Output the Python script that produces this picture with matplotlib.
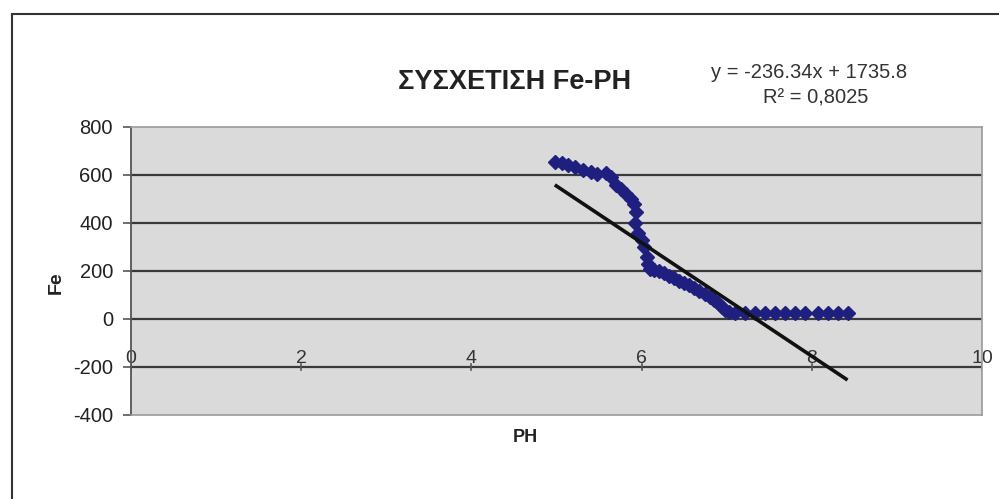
import matplotlib
matplotlib.use("Agg")
import matplotlib.pyplot as plt
from matplotlib.lines import Line2D

# ---- data ----
ph = [4.98, 5.06, 5.14, 5.22, 5.31, 5.40, 5.48, 5.58, 5.64, 5.70, 5.76, 5.82,
      5.87, 5.91, 5.93, 5.92, 5.96, 6.00, 6.03, 6.06, 6.08, 6.10, 6.14, 6.20,
      6.26, 6.32, 6.38, 6.44, 6.50, 6.56, 6.62, 6.68, 6.74, 6.80, 6.85, 6.90,
      6.94, 6.98, 7.03, 7.10, 7.21, 7.33, 7.45, 7.57, 7.68, 7.80, 7.92, 8.07,
      8.19, 8.31, 8.42]
fe = [655, 648, 640, 632, 622, 612, 604, 608, 590, 560, 540, 520,
      500, 480, 445, 400, 360, 330, 300, 260, 230, 210, 205, 198,
      190, 180, 170, 160, 150, 140, 130, 118, 105, 92, 80, 65,
      50, 38, 28, 25, 24, 24, 24, 24, 24, 24, 24, 24,
      24, 24, 24]
slope = -236.34
intercept = 1735.8
r2_label = "R² = 0,8025"
eq_label = "y = -236.34x + 1735.8"
title = "ΣΥΣΧΕΤΙΣΗ Fe-PH"
xticks = [0, 2, 4, 6, 8, 10]
yticks = [-400, -200, 0, 200, 400, 600, 800]

plt.rcParams['font.family'] = ['Liberation Sans', 'DejaVu Sans']

fig = plt.figure(figsize=(9.99, 4.99), dpi=100)
ax = fig.add_axes([131/999, 1-415/499, (982-131)/999, (415-127)/499])
ax.set_facecolor('#dadada')

ax.set_xlim(0, 10)
ax.set_ylim(-400, 800)

# horizontal gridlines
for v in [600, 400, 200, 0, -200]:
    ax.axhline(v, color='#3a3a3a', lw=1.6, zorder=1)

# data
ax.plot(ph, fe, linestyle='none', marker='D', ms=6.8, color='#1f1f80',
        markeredgecolor='#1f1f80', zorder=3)

# trend line
x0, x1 = min(ph), max(ph)
ax.plot([x0, x1], [slope*x0 + intercept, slope*x1 + intercept],
        color='#111111', lw=2.6, zorder=4, solid_capstyle='butt')

# spines
for s in ['top', 'right', 'bottom']:
    ax.spines[s].set_color('#9a9a9a')
    ax.spines[s].set_linewidth(1.2)
ax.spines['left'].set_color('#555555')
ax.spines['left'].set_linewidth(1.3)

ax.set_yticks(yticks)
ax.set_yticklabels([str(v) for v in yticks], fontsize=14.5, color='#222222')
ax.tick_params(axis='y', direction='out', length=6, width=1.2,
               color='#555555', pad=7)

# x axis drawn at y = -200 with labels above it
ax.set_xticks([])
for v in xticks:
    ax.text(v, -200, str(v), ha='center', va='bottom', fontsize=14,
            color='#333333', zorder=2)
    ax.plot([v, v], [-212, -188], color='#555555', lw=1.2, zorder=2)

fig.text(56/999, 1-283/499, 'Fe', rotation=90, ha='center', va='center',
         fontsize=14, fontweight='bold', color='#222222')
fig.text(525/999, 1-437/499, 'PH', ha='center', va='center',
         fontsize=13, fontweight='bold', color='#222222')

fig.text(515/999, 1-82/499, title, ha='center', va='center',
         fontsize=19.5, fontweight='bold', color='#222222')
fig.text(809/999, 1-72/499, eq_label, ha='center', va='center',
         fontsize=14.5, color='#333333')
fig.text(816/999, 1-98/499, r2_label, ha='center', va='center',
         fontsize=14.5, color='#333333')

# outer chart border (left and top)
fig.add_artist(Line2D([12/999, 12/999], [0, 1-14/499], transform=fig.transFigure,
                      color='#333333', lw=1.5))
fig.add_artist(Line2D([12/999, 1], [1-14/499, 1-14/499], transform=fig.transFigure,
                      color='#333333', lw=1.5))

fig.savefig('out.png', dpi=100)
